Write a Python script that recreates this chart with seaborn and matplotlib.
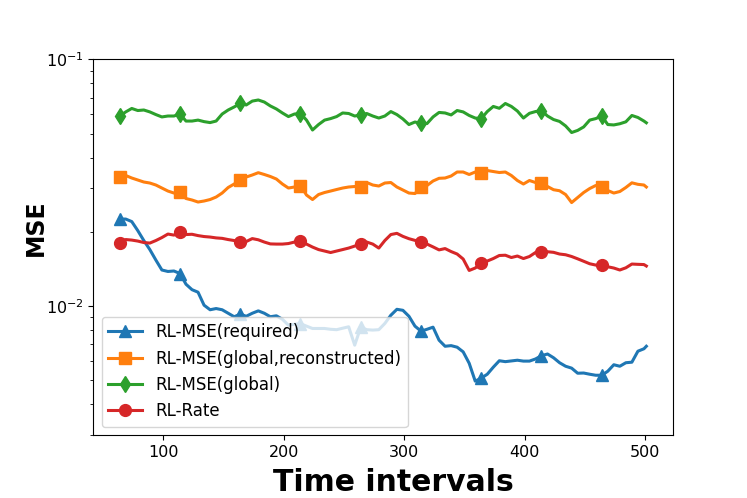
import numpy as np
import matplotlib
matplotlib.use("Agg")
import matplotlib.pyplot as plt
import seaborn as sns

# time steps (one sample every 5 intervals, last one at 501)
time_steps = list(range(64, 500, 5)) + [501]

# MSE values, in units of 1e-3
mse_required = [
    22.53, 22.53, 22.01, 20.23, 18.44, 16.95, 15.37, 14.01, 13.82, 13.88,
    13.56, 12.27, 11.66, 11.39, 10.09, 9.67, 9.78, 9.67, 9.36, 9.06,
    9.28, 9.10, 9.36, 9.57, 9.36, 9.06, 9.14, 8.85, 8.37, 8.45,
    8.49, 8.30, 8.12, 8.12, 8.12, 8.06, 8.03, 8.14, 8.25, 6.95,
    8.22, 8.03, 8.00, 8.03, 8.51, 9.19, 9.71, 9.62, 9.10, 8.30,
    7.92, 8.06, 8.22, 7.28, 6.88, 6.92, 6.82, 6.53, 5.87, 4.97,
    5.11, 5.30, 5.66, 6.01, 5.96, 6.00, 6.04, 5.99, 5.99, 6.11,
    6.30, 6.40, 6.18, 5.90, 5.71, 5.61, 5.35, 5.36, 5.30, 5.25,
    5.25, 5.45, 5.79, 5.71, 5.90, 5.93, 6.57, 6.72, 6.88,
]
mse_global_rec = [
    33.35, 33.82, 33.04, 32.43, 31.83, 31.53, 30.95, 30.09, 29.26, 28.72,
    28.99, 27.29, 26.91, 26.41, 26.66, 27.03, 27.67, 28.72, 30.24, 31.24,
    32.43, 33.35, 33.98, 34.72, 34.14, 33.51, 32.73, 31.24, 30.09, 30.38,
    30.81, 28.19, 27.03, 28.32, 28.86, 29.26, 29.68, 30.09, 30.38, 30.52,
    30.38, 31.68, 30.95, 30.66, 31.53, 31.68, 30.38, 29.54, 28.72, 28.59,
    30.38, 30.81, 32.13, 32.95, 33.04, 33.66, 34.94, 34.94, 34.14, 34.94,
    34.52, 35.43, 35.10, 34.78, 34.94, 33.82, 32.28, 31.24, 32.28, 31.68,
    31.44, 30.52, 29.62, 29.34, 28.32, 26.28, 27.54, 28.86, 29.95, 30.81,
    30.38, 29.40, 28.72, 29.13, 30.24, 31.59, 31.15, 30.95, 30.38,
]
mse_global = [
    58.9, 61.2, 63.2, 62.0, 62.3, 61.2, 59.7, 58.4, 58.9, 58.9,
    60.0, 56.2, 56.2, 56.7, 55.9, 55.4, 56.2, 60.0, 62.3, 64.1,
    66.2, 65.3, 67.7, 68.4, 67.1, 64.7, 62.9, 60.6, 58.6, 60.0,
    60.3, 56.7, 51.7, 54.4, 56.7, 57.5, 58.6, 60.6, 60.3, 58.9,
    59.5, 60.3, 58.9, 57.8, 58.9, 61.4, 59.7, 57.3, 54.4, 55.7,
    55.0, 54.9, 58.4, 60.9, 60.6, 59.5, 62.0, 61.2, 59.2, 57.8,
    57.5, 61.4, 64.4, 63.3, 66.2, 64.4, 61.7, 57.8, 60.4, 61.4,
    61.9, 58.9, 57.0, 56.0, 53.7, 50.5, 51.5, 53.2, 56.7, 57.5,
    58.9, 54.4, 54.2, 54.8, 55.8, 59.2, 58.1, 56.2, 55.3,
]
rate_mse = [
    18.01, 18.61, 18.52, 18.35, 18.10, 18.01, 18.44, 18.96, 19.59, 19.40,
    19.95, 19.50, 19.55, 19.31, 19.14, 19.05, 18.90, 18.82, 18.61, 18.44,
    18.18, 18.27, 18.78, 18.57, 18.18, 17.87, 17.84, 17.84, 17.93, 18.18,
    18.44, 17.84, 17.35, 16.95, 16.72, 16.49, 16.72, 16.95, 17.19, 17.51,
    17.93, 18.18, 17.84, 17.19, 18.44, 19.50, 19.72, 19.17, 18.76, 18.47,
    18.27, 17.84, 17.38, 16.90, 17.11, 16.64, 16.26, 15.52, 13.95, 14.27,
    14.91, 15.23, 15.59, 16.04, 16.08, 15.74, 15.96, 15.59, 15.89, 16.49,
    16.61, 16.61, 16.52, 16.26, 16.15, 15.89, 15.55, 15.20, 14.85, 14.67,
    14.67, 14.44, 14.27, 14.01, 14.30, 14.81, 14.77, 14.74, 14.54,
]

series_labels = ["RL-MSE(required)", "RL-MSE(global,reconstructed)",
                 "RL-MSE(global)", "RL-Rate"]
series_values = [mse_required, mse_global_rec, mse_global, rate_mse]
series_markers = ["^", "s", "d", "o"]
series_colors = ["#1f77b4", "#ff7f0e", "#2ca02c", "#d62728"]

fig, ax = plt.subplots(figsize=(7.47, 4.98), dpi=100)
fig.subplots_adjust(left=0.125, right=0.9005, top=0.881, bottom=0.126)

x = np.array(time_steps)
for label, vals, mk, col in zip(series_labels, series_values, series_markers, series_colors):
    sns.lineplot(x=x, y=np.array(vals) * 1e-3, ax=ax, label=label, color=col,
                 marker=mk, markevery=10, markersize=8.5, linewidth=2.2,
                 markeredgecolor=col, markeredgewidth=1.0)

ax.set_yscale("log")
ax.set_ylim(3e-3, 1e-1)
ax.tick_params(labelsize=11.5)
ax.set_xlabel("Time intervals", fontsize=21.5, fontweight="bold", x=0.518, labelpad=6)
ax.set_ylabel("MSE", fontsize=17, fontweight="bold", y=0.551, labelpad=-1.5)
ax.legend(loc="lower left", fontsize=12)

fig.savefig("out.png", dpi=100)
